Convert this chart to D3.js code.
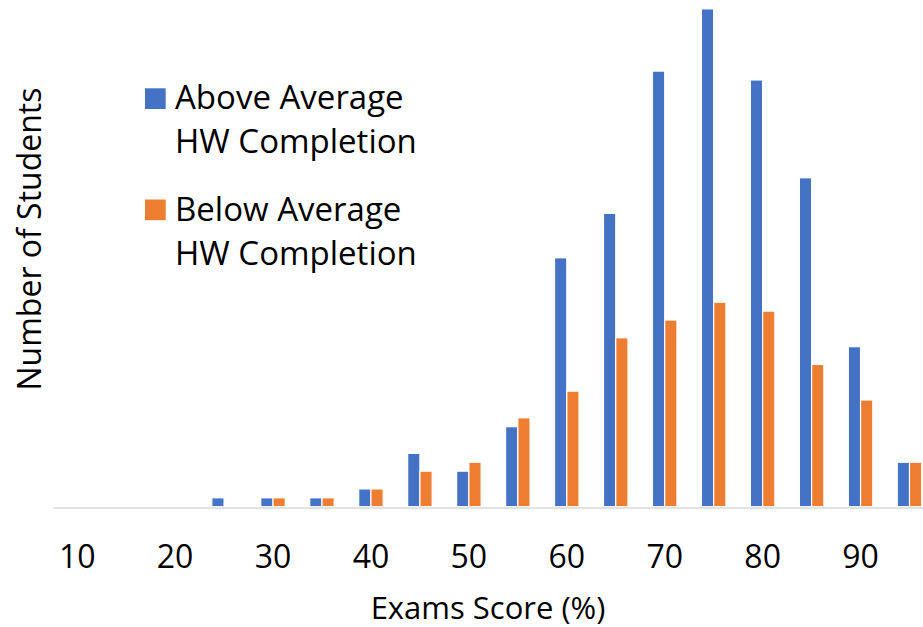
<!DOCTYPE html>
<html>
<head>
<meta charset="utf-8">
<script src="https://cdn.jsdelivr.net/npm/d3@7"></script>
<style>
  html, body { margin: 0; padding: 0; background: #fff; }
  svg { display: block; font-family: "Open Sans", "Noto Sans", sans-serif; }
</style>
</head>
<body>
<svg id="chart" width="923" height="627"></svg>
<script>
// Data
const categories = [10, 15, 20, 25, 30, 35, 40, 45, 50, 55, 60, 65, 70, 75, 80, 85, 90, 95];
const aboveAvg = [0, 0, 0, 1, 1, 1, 2, 6, 4, 9, 28, 33, 49, 56, 48, 37, 18, 5];
const belowAvg = [0, 0, 0, 0, 1, 1, 2, 4, 5, 10, 13, 19, 21, 23, 22, 16, 12, 5];
const tickLabels = [10, 20, 30, 40, 50, 60, 70, 80, 90];
const seriesNames = ["Above Average HW Completion", "Below Average HW Completion"];
const legendLines = [["Above Average", "HW Completion"], ["Below Average", "HW Completion"]];
const colors = ["#4472C4", "#ED7D31"];

const svg = d3.select("#chart");

const baseY = 506.7;
const x = d3.scaleBand().domain(categories).range([52.7, 934]).paddingInner(0).paddingOuter(0);
const groupW = x.bandwidth() * 0.5;
const xInner = d3.scaleBand().domain([0, 1]).range([0, groupW]);
const y = d3.scaleLinear().domain([0, 60]).range([baseY, baseY - 60 * 8.89]);

const table = categories.map((c, i) => ({ cat: c, vals: [aboveAvg[i], belowAvg[i]] }));

const groups = svg.append("g").selectAll("g")
  .data(table).join("g")
  .attr("transform", d => `translate(${x(d.cat) + (x.bandwidth() - groupW) / 2},0)`);

groups.selectAll("rect")
  .data(d => d.vals.map((v, s) => ({ v, s })))
  .join("rect")
  .filter(d => d.v > 0)
  .attr("x", d => xInner(d.s))
  .attr("width", xInner.bandwidth())
  .attr("y", d => y(d.v))
  .attr("height", d => y(0) - y(d.v))
  .attr("fill", d => colors[d.s])
  .attr("stroke", "#fff")
  .attr("stroke-width", 1.2);

// X axis
const xAxis = d3.axisBottom(x).tickValues(tickLabels).tickSize(0).tickFormat(d => d);
const gx = svg.append("g").attr("transform", `translate(0,${baseY + 0.8})`).call(xAxis);
gx.select(".domain").attr("stroke", "#d9d9d9").attr("stroke-width", 1.5);
gx.selectAll("text")
  .attr("y", 60.2).attr("dy", 0)
  .attr("font-size", 32)
  .attr("font-family", "'Open Sans', 'Noto Sans', sans-serif")
  .attr("fill", "#000");

// Axis titles
svg.append("text")
  .attr("x", 488).attr("y", 619.2)
  .attr("text-anchor", "middle")
  .attr("font-size", 31)
  .attr("fill", "#000")
  .text("Exams Score (%)");

svg.append("text")
  .attr("transform", "translate(40.5,239) rotate(-90)")
  .attr("text-anchor", "middle")
  .attr("font-size", 32)
  .attr("fill", "#000")
  .text("Number of Students");

// Legend
const legendTop = [88.3, 199.5];
const legend = svg.append("g");
seriesNames.forEach((name, i) => {
  const g = legend.append("g");
  g.append("rect")
    .attr("x", 145).attr("y", legendTop[i])
    .attr("width", 20.7).attr("height", 20.7)
    .attr("fill", colors[i]);
  legendLines[i].forEach((line, j) => {
    g.append("text")
      .attr("x", 175)
      .attr("y", legendTop[i] + 21 + j * 44)
      .attr("font-size", 33)
      .attr("fill", "#000")
      .text(line);
  });
});
</script>
</body>
</html>
